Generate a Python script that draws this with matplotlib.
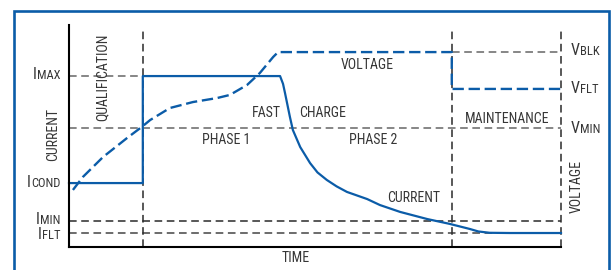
import matplotlib
matplotlib.use('Agg')
import matplotlib.pyplot as plt
from matplotlib.patches import Rectangle

plt.rcParams['font.family'] = ['Roboto Condensed', 'Archivo Narrow', 'Liberation Sans', 'DejaVu Sans']

# levels (arbitrary units, 0..100)
I_MAX = 77.0
I_COND = 28.8
I_MIN = 11.7
I_FLT = 6.3
V_BLK = 87.8
V_FLT = 71.2
V_MIN = 53.6

# phase boundaries on the time axis
T_QUAL = 15.0
T_MAINT = 77.8
T_END = 100.0
TOP = 98.6

# charge current
cur_t = [0, 15.0, 15.0, 42.9, 43.5, 43.9, 44.9, 45.5, 47.0, 49.0, 50.5, 52.4, 54.4,
         56.5, 60.6, 63.2, 67.3, 72.8, 77.4, 81.5, 83.2, 85.5, 89.6, 100]
cur_i = [28.8, 28.8, 77.0, 77.0, 73.5, 69.4, 58.6, 52.7, 45.0, 37.8, 33.6, 30.2, 27.3,
         24.8, 21.6, 18.9, 15.8, 12.6, 10.4, 8.1, 7.0, 6.4, 6.3, 6.3]

# battery voltage
volt_t = [0.8, 2.8, 6.9, 11.8, 14.8, 16.5, 20.5, 25.2, 30.1, 32.7, 36.2, 38.8,
          41.5, 42.5, 77.8, 77.8, 100]
volt_v = [25.7, 31.5, 40.5, 49.1, 54.1, 57.2, 62.6, 65.3, 67.1, 68.5, 73.0, 78.4,
          85.6, 87.8, 87.8, 71.2, 71.2]

blue = '#0b5ca8'
gray = '#666666'
dark = '#2a2a2a'
txt = '#363636'

fig = plt.figure(figsize=(6.16, 2.70), dpi=100)
fig.patch.set_facecolor('white')
fig.patches.append(Rectangle((13.5 / 616, -0.1), 595.5 / 616, 1.1 - 10.5 / 270,
                             transform=fig.transFigure, fill=False,
                             edgecolor=blue, lw=1.9))

ax = fig.add_axes([69 / 616, 23 / 270, 492 / 616, 222 / 270])
ax.set_xlim(0, 100)
ax.set_ylim(0, 100)
ax.set_xticks([])
ax.set_yticks([])
for s in ['top', 'right']:
    ax.spines[s].set_visible(False)
for s in ['left', 'bottom']:
    ax.spines[s].set_linewidth(1.5)
    ax.spines[s].set_color('black')

gdash = (0, (5, 3))
# horizontal reference lines
ax.plot([0, T_QUAL], [I_MAX, I_MAX], color=gray, lw=1.1, ls=gdash)
ax.plot([0, T_END], [V_MIN, V_MIN], color=gray, lw=1.1, ls=gdash)
ax.plot([T_MAINT, T_END], [V_BLK, V_BLK], color=gray, lw=1.1, ls=gdash)
ax.plot([0, T_END], [I_MIN, I_MIN], color=dark, lw=1.1, ls=gdash)
ax.plot([0, T_END], [I_FLT, I_FLT], color='#444444', lw=1.1, ls=gdash)
# vertical phase lines
for t in [T_QUAL, T_MAINT, T_END]:
    ax.plot([t, t], [0, TOP], color=dark, lw=1.1, ls=gdash, clip_on=False)

ax.plot(cur_t, cur_i, color=blue, lw=1.6, clip_on=False)
ax.plot(volt_t, volt_v, color=blue, lw=1.7, ls=(0, (4.8, 2.0)), clip_on=False)


def sub_label(x, y, main, sub, side):
    if side == 'right':
        s = ax.text(x, y, sub, fontsize=9, color=txt, ha='right', va='bottom')
        ax.annotate(main, xy=(0, 0), xycoords=s, fontsize=11.5, color=txt,
                    ha='right', va='bottom')
    else:
        m = ax.text(x, y, main, fontsize=11.5, color=txt, ha='left', va='bottom')
        ax.annotate(sub, xy=(1, 0), xycoords=m, fontsize=9, color=txt,
                    ha='left', va='bottom')


sub_label(-1.8, 74.2, 'I', 'MAX', 'right')
sub_label(-1.8, 25.5, 'I', 'COND', 'right')
sub_label(-1.8, 8.9, 'I', 'MIN', 'right')
sub_label(-1.8, 2.2, 'I', 'FLT', 'right')
sub_label(102.0, 85.0, 'V', 'BLK', 'left')
sub_label(102.0, 67.9, 'V', 'FLT', 'left')
sub_label(102.0, 49.9, 'V', 'MIN', 'left')

fs = 10
ax.text(-3.3, 50.5, 'CURRENT', fontsize=fs, color=txt, rotation=90,
        ha='center', va='center')
ax.text(6.8, 76.6, 'QUALIFICATION', fontsize=fs, color=txt, rotation=90,
        ha='center', va='center')
ax.text(103.2, 27.3, 'VOLTAGE', fontsize=fs, color=txt, rotation=90,
        ha='center', va='center')
ax.text(60.6, 80.2, 'VOLTAGE', fontsize=fs, color=txt, ha='center', va='baseline')
ax.text(40.1, 58.6, 'FAST', fontsize=fs, color=txt, ha='center', va='baseline')
ax.text(51.6, 58.6, 'CHARGE', fontsize=fs, color=txt, ha='center', va='baseline')
ax.text(31.9, 46.4, 'PHASE 1', fontsize=fs, color=txt, ha='center', va='baseline')
ax.text(61.9, 46.4, 'PHASE 2', fontsize=fs, color=txt, ha='center', va='baseline')
ax.text(70.1, 20.3, 'CURRENT', fontsize=fs, color=txt, ha='center', va='baseline')
ax.text(89.0, 55.9, 'MAINTENANCE', fontsize=fs, color=txt, ha='center', va='baseline')
ax.text(46.0, -6.8, 'TIME', fontsize=fs, color=txt, ha='center', va='baseline')

fig.savefig('out.png', dpi=100)
